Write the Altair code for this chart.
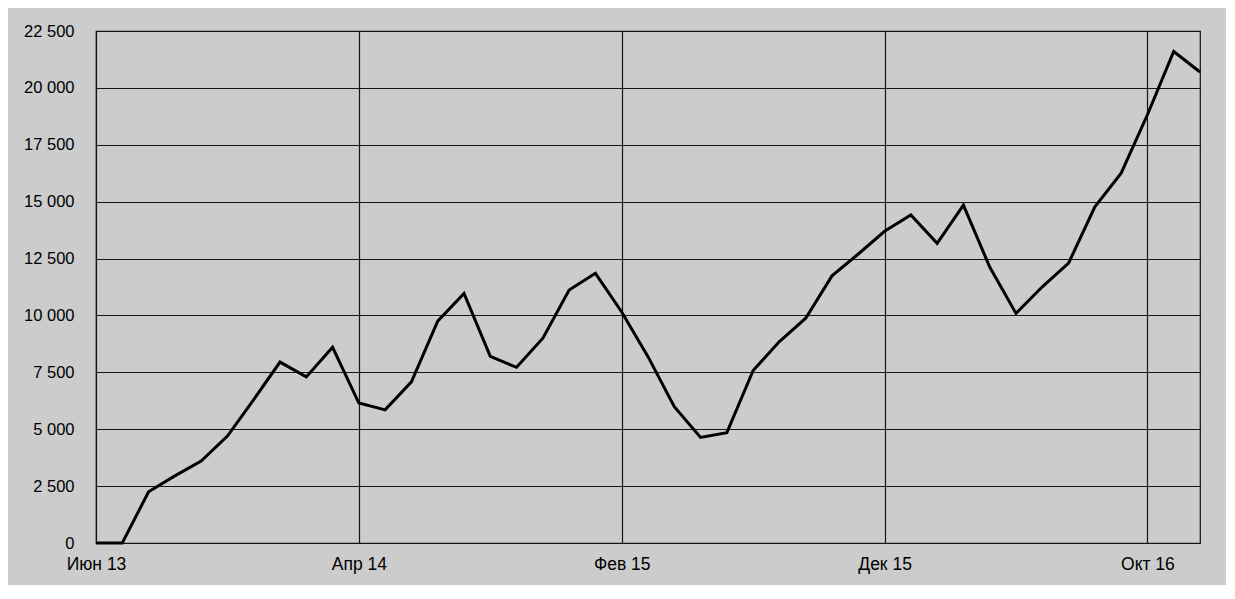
import altair as alt
import pandas as pd

# Monthly values, Jun 2013 .. Dec 2016
values = [0, 0, 2250, 2950, 3600, 4700, 6300, 7950, 7300, 8600,
          6150, 5850, 7080, 9750, 10970, 8200, 7720, 9000, 11120, 11850,
          10150, 8190, 5990, 4640, 4850, 7580, 8850, 9880, 11740, 12700,
          13700, 14420, 13170, 14850, 12130, 10090, 11260, 12300, 14770, 16250,
          18820, 21600, 20700]
month_index = list(range(len(values)))
tick_positions = [0, 10, 20, 30, 40]
tick_labels = ["Июн 13", "Апр 14", "Фев 15", "Дек 15", "Окт 16"]
y_ticks = [0, 2500, 5000, 7500, 10000, 12500, 15000, 17500, 20000, 22500]

df = pd.DataFrame({"i": month_index, "v": values})

label_list = "[" + ",".join("'" + s + "'" for s in tick_labels) + "]"

chart = alt.Chart(df).mark_line(color="#000000", strokeWidth=3, strokeJoin="miter").encode(
    x=alt.X("i:Q", scale=alt.Scale(domain=[0, len(values) - 1], nice=False, zero=False),
            axis=alt.Axis(values=tick_positions, title=None,
                          labelExpr=label_list + "[round(datum.value/10)]",
                          grid=True, gridColor="#151515", gridWidth=1.2,
                          domain=False, ticks=False, labelPadding=12,
                          labelFont="Liberation Sans", labelFontSize=17.5,
                          labelColor="#000000", labelFlush=False)),
    y=alt.Y("v:Q", scale=alt.Scale(domain=[0, 22500], nice=False),
            axis=alt.Axis(values=y_ticks, title=None,
                          labelExpr="replace(format(datum.value, ','), ',', ' ')",
                          grid=True, gridColor="#151515", gridWidth=1.2,
                          domain=False, ticks=False, labelPadding=22,
                          labelFont="Liberation Sans", labelFontSize=16.5,
                          labelColor="#000000")),
).properties(
    width=1104, height=512,
    autosize=alt.AutoSizeParams(type="none"),
    padding={"left": 88, "top": 23, "right": 26, "bottom": 42},
    background="#cccccc",
).configure_view(
    stroke="#151515", strokeWidth=1.2, fill="#cccccc"
)

chart.save("out.html", embed_options={"renderer": "svg", "actions": False})
